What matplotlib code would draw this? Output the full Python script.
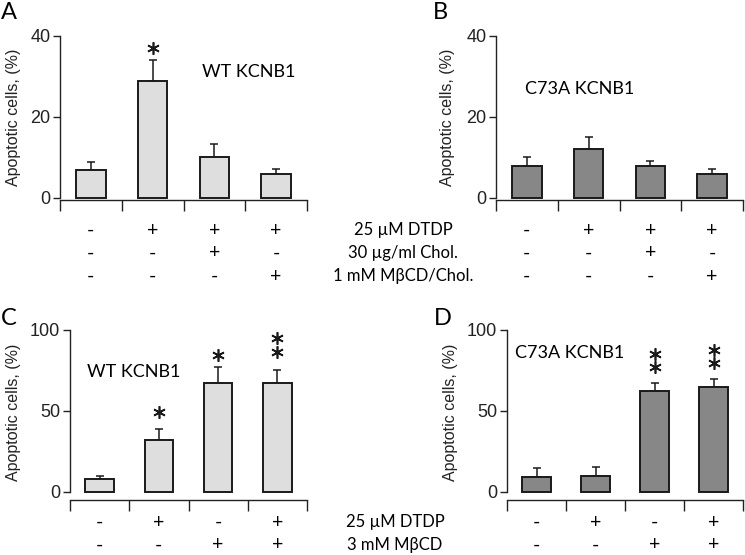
import numpy as np
import matplotlib
matplotlib.use('Agg')
import matplotlib.pyplot as plt
from matplotlib.transforms import blended_transform_factory

plt.rcParams['font.family'] = ['Liberation Sans', 'DejaVu Sans']
label_font = ['Lato', 'DejaVu Sans']

# panel A / B: cholesterol experiment
vals_a = [7, 29, 10, 6]
err_a = [2, 5, 3.3, 1.1]
vals_b = [8, 12, 8, 6]
err_b = [2.2, 3.1, 1.2, 1.1]
stars_a = [(1, [37])]
stars_b = []

# panel C / D: MbetaCD experiment
vals_c = [8, 32, 67, 67]
err_c = [2, 7, 10, 8]
vals_d = [9, 10, 62, 65]
err_d = [5.5, 5, 5, 5]
stars_c = [(1, [49.5]), (2, [84.5]), (3, [86.6, 95])]
stars_d = [(2, [77.3, 85]), (3, [79.4, 87.6])]

rows_top = ['25 µM DTDP', '30 µg/ml Chol.', '1 mM MβCD/Chol.']
signs_top = [['-', '+', '+', '+'],
             ['-', '-', '+', '-'],
             ['-', '-', '-', '+']]
rows_bot = ['25 µM DTDP', '3 mM MβCD']
signs_bot = [['-', '+', '-', '+'],
             ['-', '-', '+', '+']]

W, H = 745, 555
fig = plt.figure(figsize=(W / 100, H / 100), dpi=100)


def px_axes(left, right, top, bottom):
    return fig.add_axes([left / W, (H - bottom) / H, (right - left) / W, (bottom - top) / H])


def draw_panel(ax, vals, errs, stars, color, ymax, yticks, ymin):
    x = np.arange(len(vals)) + 0.5
    ax.bar(x, vals, width=0.48, color=color, edgecolor='#1a1a1a', linewidth=1.4, zorder=2)
    ax.errorbar(x, vals, yerr=[np.zeros(len(errs)), errs], fmt='none', ecolor='#1a1a1a',
                elinewidth=1.1, capsize=3, capthick=1.1, zorder=1)
    for i, ys in stars:
        ax.plot([x[i]] * len(ys), ys, linestyle='none', marker=(6, 2, 0), ms=9,
                mew=1.2, color='#1a1a1a')
    ax.set_xlim(0, len(vals))
    ax.set_ylim(ymin, ymax)
    ax.set_xticks(np.arange(len(vals) + 1))
    ax.set_xticklabels([])
    ax.set_yticks(yticks)
    ax.tick_params(axis='x', direction='out', length=8, width=1, color='#222222')
    ax.tick_params(axis='y', direction='out', length=5, width=1, color='#222222',
                   labelsize=13, labelcolor='#222222', pad=2)
    for s in ['top', 'right']:
        ax.spines[s].set_visible(False)
    ax.spines['left'].set_bounds(0, ymax)
    for s in ['left', 'bottom']:
        ax.spines[s].set_linewidth(1)
        ax.spines[s].set_color('#222222')
    ax.patch.set_alpha(0)


light = '#dedede'
dark = '#878787'

ax_a = px_axes(60, 307, 36, 200)
draw_panel(ax_a, vals_a, err_a, stars_a, light, 40, [0, 20, 40], -0.5)
ax_b = px_axes(496, 743, 36, 200)
draw_panel(ax_b, vals_b, err_b, stars_b, dark, 40, [0, 20, 40], -0.5)
ax_c = px_axes(70, 307, 330, 500)
draw_panel(ax_c, vals_c, err_c, stars_c, light, 100, [0, 50, 100], -5.1)
ax_d = px_axes(507, 743, 330, 500)
draw_panel(ax_d, vals_d, err_d, stars_d, dark, 100, [0, 50, 100], -5.1)

ax_a.text(3.05, 31, 'WT KCNB1', ha='center', va='center', fontsize=13, family=label_font)
ax_b.text(1.36, 27, 'C73A KCNB1', ha='center', va='center', fontsize=13, family=label_font)
ax_c.text(1.07, 74, 'WT KCNB1', ha='center', va='center', fontsize=13, family=label_font)
ax_d.text(1.06, 86, 'C73A KCNB1', ha='center', va='center', fontsize=13, family=label_font)

# y labels
for xp, yp in [(14, 117), (448, 117), (14, 412), (450, 412)]:
    fig.text(xp / W, 1 - yp / H, 'Apoptotic cells, (%)', rotation=90, ha='center',
             va='center', fontsize=11.5, color='#222222')

# panel letters
for letter, xp, yp in [('A', 1, 2), ('B', 433, 2), ('C', 1, 308), ('D', 434, 308)]:
    fig.text(xp / W, 1 - yp / H, letter, ha='left', va='top', fontsize=17, family=label_font)

# treatment rows
for ax, ypx_list, signs in [(ax_a, [230, 253, 276], signs_top), (ax_b, [230, 253, 276], signs_top),
                            (ax_c, [522, 545], signs_bot), (ax_d, [522, 545], signs_bot)]:
    tr = blended_transform_factory(ax.transData, fig.transFigure)
    for row, yp in zip(signs, ypx_list):
        for i, s in enumerate(row):
            ax.text(i + 0.5, 1 - yp / H, s, transform=tr, ha='center', va='center',
                    fontsize=14, family=label_font)

for name, yp in zip(rows_top, [230, 253, 276]):
    fig.text(403 / W, 1 - yp / H, name, ha='center', va='center', fontsize=12, family=label_font)
for name, yp in zip(rows_bot, [522, 545]):
    fig.text(395 / W, 1 - yp / H, name, ha='center', va='center', fontsize=12, family=label_font)

fig.savefig('out.png', dpi=100)
